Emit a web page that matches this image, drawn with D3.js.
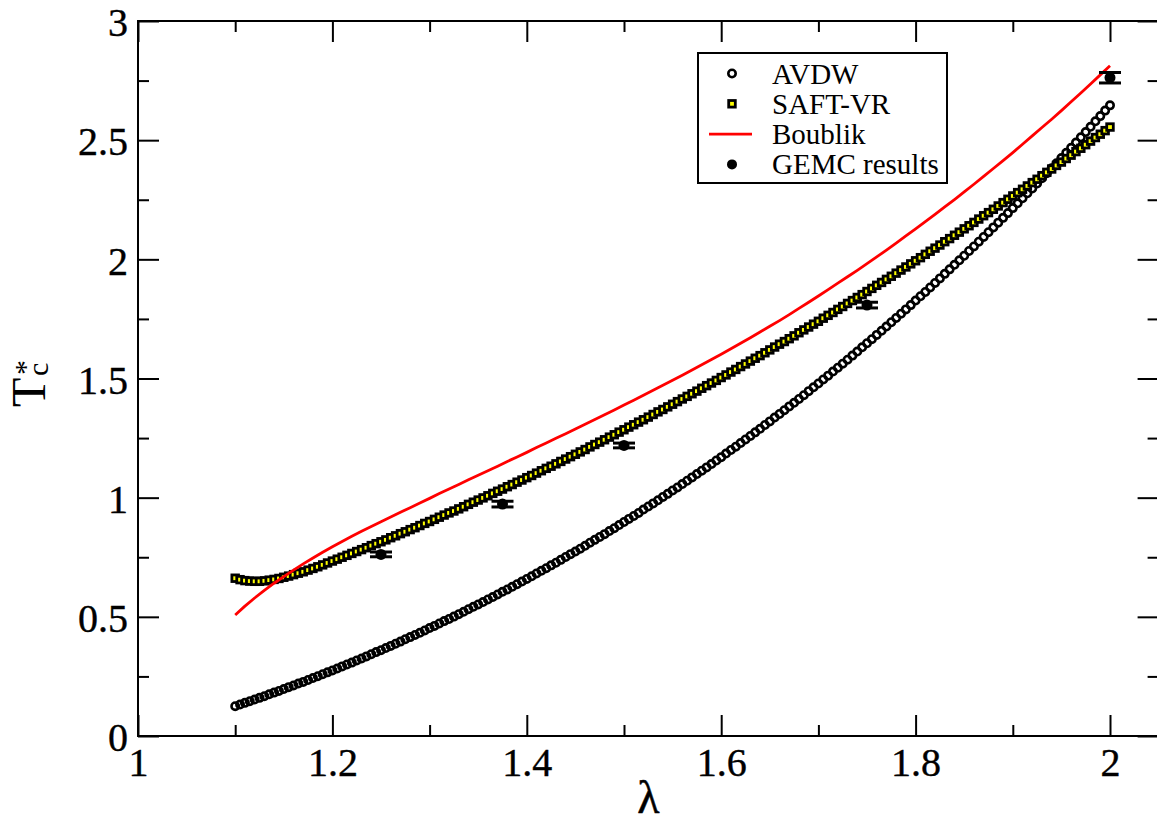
<!DOCTYPE html>
<html>
<head>
<meta charset="utf-8">
<script src="https://cdn.jsdelivr.net/npm/d3@7"></script>
<style>
  html, body { margin: 0; padding: 0; background: #fff; }
  svg { display: block; }
  text { font-family: "Liberation Serif", "DejaVu Serif", "Times New Roman", serif; fill: #000; }
</style>
</head>
<body>
<svg id="chart" width="1157" height="829"></svg>
<script>
// Well width lambda at which the theoretical critical temperatures are tabulated
const lambdaGrid = [
  1.1,1.105,1.11,1.115,1.12,1.125,1.13,1.135,1.14,1.145,
  1.15,1.155,1.16,1.165,1.17,1.175,1.18,1.185,1.19,1.195,
  1.2,1.205,1.21,1.215,1.22,1.225,1.23,1.235,1.24,1.245,
  1.25,1.255,1.26,1.265,1.27,1.275,1.28,1.285,1.29,1.295,
  1.3,1.305,1.31,1.315,1.32,1.325,1.33,1.335,1.34,1.345,
  1.35,1.355,1.36,1.365,1.37,1.375,1.38,1.385,1.39,1.395,
  1.4,1.405,1.41,1.415,1.42,1.425,1.43,1.435,1.44,1.445,
  1.45,1.455,1.46,1.465,1.47,1.475,1.48,1.485,1.49,1.495,
  1.5,1.505,1.51,1.515,1.52,1.525,1.53,1.535,1.54,1.545,
  1.55,1.555,1.56,1.565,1.57,1.575,1.58,1.585,1.59,1.595,
  1.6,1.605,1.61,1.615,1.62,1.625,1.63,1.635,1.64,1.645,
  1.65,1.655,1.66,1.665,1.67,1.675,1.68,1.685,1.69,1.695,
  1.7,1.705,1.71,1.715,1.72,1.725,1.73,1.735,1.74,1.745,
  1.75,1.755,1.76,1.765,1.77,1.775,1.78,1.785,1.79,1.795,
  1.8,1.805,1.81,1.815,1.82,1.825,1.83,1.835,1.84,1.845,
  1.85,1.855,1.86,1.865,1.87,1.875,1.88,1.885,1.89,1.895,
  1.9,1.905,1.91,1.915,1.92,1.925,1.93,1.935,1.94,1.945,
  1.95,1.955,1.96,1.965,1.97,1.975,1.98,1.985,1.99,1.995,
  2.0
];

// AVDW critical temperature
const avdw = [
  0.125,0.132,0.139,0.146,0.153,0.160,0.167,0.175,0.182,0.189,
  0.197,0.205,0.212,0.220,0.227,0.235,0.243,0.251,0.259,0.267,
  0.275,0.283,0.292,0.300,0.308,0.317,0.325,0.334,0.343,0.352,
  0.360,0.369,0.378,0.387,0.396,0.406,0.415,0.424,0.433,0.443,
  0.453,0.462,0.472,0.482,0.491,0.501,0.511,0.521,0.532,0.542,
  0.552,0.562,0.573,0.583,0.594,0.605,0.615,0.626,0.637,0.648,
  0.659,0.670,0.682,0.693,0.704,0.716,0.727,0.739,0.751,0.763,
  0.774,0.786,0.798,0.811,0.823,0.835,0.847,0.860,0.872,0.885,
  0.898,0.911,0.923,0.936,0.950,0.963,0.976,0.989,1.003,1.016,
  1.030,1.043,1.057,1.071,1.085,1.099,1.113,1.127,1.141,1.156,
  1.170,1.185,1.200,1.214,1.229,1.244,1.259,1.274,1.289,1.305,
  1.320,1.336,1.351,1.367,1.383,1.398,1.414,1.430,1.447,1.463,
  1.479,1.496,1.512,1.529,1.545,1.562,1.579,1.596,1.613,1.631,
  1.648,1.665,1.683,1.700,1.718,1.736,1.754,1.772,1.790,1.808,
  1.827,1.845,1.863,1.882,1.901,1.920,1.939,1.958,1.977,1.996,
  2.015,2.035,2.054,2.074,2.094,2.114,2.134,2.154,2.174,2.194,
  2.215,2.235,2.256,2.277,2.297,2.318,2.340,2.361,2.382,2.403,
  2.425,2.447,2.468,2.490,2.512,2.534,2.556,2.579,2.601,2.624,
  2.646
];

// SAFT-VR critical temperature
const saftVR = [
  0.662,0.656,0.652,0.650,0.649,0.649,0.651,0.654,0.657,0.661,
  0.666,0.671,0.677,0.683,0.689,0.696,0.703,0.710,0.718,0.726,
  0.734,0.742,0.750,0.758,0.766,0.774,0.782,0.790,0.799,0.807,
  0.815,0.823,0.832,0.840,0.849,0.857,0.866,0.874,0.883,0.892,
  0.900,0.909,0.918,0.927,0.936,0.944,0.953,0.962,0.972,0.981,
  0.990,0.999,1.008,1.018,1.027,1.036,1.046,1.055,1.065,1.074,
  1.084,1.093,1.103,1.113,1.123,1.132,1.142,1.152,1.162,1.172,
  1.182,1.192,1.202,1.213,1.223,1.233,1.243,1.254,1.264,1.275,
  1.285,1.296,1.306,1.317,1.327,1.338,1.349,1.360,1.370,1.381,
  1.392,1.403,1.414,1.425,1.436,1.447,1.459,1.470,1.481,1.492,
  1.504,1.515,1.527,1.538,1.550,1.561,1.573,1.585,1.596,1.608,
  1.620,1.632,1.644,1.655,1.667,1.679,1.692,1.704,1.716,1.728,
  1.740,1.753,1.765,1.777,1.790,1.802,1.815,1.827,1.840,1.852,
  1.865,1.878,1.891,1.903,1.916,1.929,1.942,1.955,1.968,1.981,
  1.994,2.007,2.021,2.034,2.047,2.060,2.074,2.087,2.101,2.114,
  2.128,2.141,2.155,2.169,2.183,2.196,2.210,2.224,2.238,2.252,
  2.266,2.280,2.294,2.308,2.322,2.336,2.351,2.365,2.379,2.394,
  2.408,2.423,2.437,2.452,2.466,2.481,2.496,2.511,2.525,2.540,
  2.555
];

// Boublik curve
const boublikLambda = [
  1.1,1.11,1.12,1.13,1.14,1.15,1.16,1.17,1.18,1.19,
  1.2,1.21,1.22,1.23,1.24,1.25,1.26,1.27,1.28,1.29,
  1.3,1.31,1.32,1.33,1.34,1.35,1.36,1.37,1.38,1.39,
  1.4,1.41,1.42,1.43,1.44,1.45,1.46,1.47,1.48,1.49,
  1.5,1.51,1.52,1.53,1.54,1.55,1.56,1.57,1.58,1.59,
  1.6,1.61,1.62,1.63,1.64,1.65,1.66,1.67,1.68,1.69,
  1.7,1.71,1.72,1.73,1.74,1.75,1.76,1.77,1.78,1.79,
  1.8,1.81,1.82,1.83,1.84,1.85,1.86,1.87,1.88,1.89,
  1.9,1.91,1.92,1.93,1.94,1.95,1.96,1.97,1.98,1.99,
  2.0
];
const boublik = [
  0.508,0.545,0.579,0.611,0.641,0.669,0.696,0.722,0.747,0.771,
  0.794,0.816,0.838,0.859,0.879,0.899,0.919,0.939,0.958,0.978,
  0.997,1.017,1.036,1.055,1.075,1.094,1.113,1.132,1.152,1.171,
  1.190,1.210,1.229,1.249,1.268,1.288,1.308,1.328,1.348,1.368,
  1.389,1.409,1.430,1.451,1.472,1.493,1.514,1.536,1.558,1.580,
  1.602,1.625,1.648,1.671,1.695,1.719,1.743,1.768,1.794,1.820,
  1.846,1.873,1.900,1.927,1.954,1.982,2.010,2.039,2.068,2.098,
  2.128,2.158,2.189,2.220,2.251,2.283,2.315,2.348,2.381,2.414,
  2.448,2.483,2.518,2.553,2.588,2.624,2.661,2.698,2.736,2.774,
  2.812
];

// Gibbs ensemble Monte Carlo results with their uncertainties
const gemcLambda = [1.25, 1.375, 1.5, 1.75, 2.0];
const gemcTc     = [0.762, 0.973, 1.219, 1.808, 2.762];
const gemcErr    = [0.010, 0.012, 0.010, 0.012, 0.022];

// Axis ticks and labels
const xMajorTicks  = [1, 1.2, 1.4, 1.6, 1.8, 2];
const xMajorLabels = ["1", "1.2", "1.4", "1.6", "1.8", "2"];
const xMinorTicks  = [1.1, 1.3, 1.5, 1.7, 1.9];
const yMajorTicks  = [0, 0.5, 1, 1.5, 2, 2.5, 3];
const yMajorLabels = ["0", "0.5", "1", "1.5", "2", "2.5", "3"];
const yMinorTicks  = [0.25, 0.75, 1.25, 1.75, 2.25, 2.75];
const legendLabels = ["AVDW", "SAFT-VR", "Boublik", "GEMC results"];

// ---- layout ----
const plot = { left: 138, top: 21, right: 1158.6, bottom: 736 };
const svg = d3.select("#chart");
svg.append("rect").attr("width", 1157).attr("height", 829).attr("fill", "#fff");

const x = d3.scaleLinear().domain([1, 2.05]).range([plot.left, plot.right]);
const y = d3.scaleLinear().domain([0, 3]).range([plot.bottom, plot.top]);

const SERIF = '"Liberation Serif", "DejaVu Serif", "Times New Roman", serif';
const MAJOR = 21, MINOR = 11;

function finishAxis(g) {
  g.attr("font-family", SERIF).attr("font-size", 40);
  g.select(".domain").remove();
  g.selectAll(".tick line").attr("stroke", "#000").attr("stroke-width", 2);
  g.selectAll(".tick text").attr("fill", "#000")
    .attr("stroke", "#000").attr("stroke-width", 0.4);
}

// bottom axis with labels
svg.append("g").attr("transform", `translate(0,${plot.bottom})`)
  .call(d3.axisBottom(x).tickValues(xMajorTicks).tickSize(-MAJOR).tickSizeOuter(0)
    .tickPadding(12).tickFormat((d, i) => xMajorLabels[i]))
  .call(finishAxis);
svg.append("g").attr("transform", `translate(0,${plot.bottom})`)
  .call(d3.axisBottom(x).tickValues(xMinorTicks).tickSize(-MINOR).tickSizeOuter(0).tickFormat(""))
  .call(finishAxis);
// top axis (ticks only)
svg.append("g").attr("transform", `translate(0,${plot.top})`)
  .call(d3.axisTop(x).tickValues(xMajorTicks).tickSize(-MAJOR).tickSizeOuter(0).tickFormat(""))
  .call(finishAxis);
svg.append("g").attr("transform", `translate(0,${plot.top})`)
  .call(d3.axisTop(x).tickValues(xMinorTicks).tickSize(-MINOR).tickSizeOuter(0).tickFormat(""))
  .call(finishAxis);
// left axis with labels
const leftAxis = svg.append("g").attr("transform", `translate(${plot.left},0)`)
  .call(d3.axisLeft(y).tickValues(yMajorTicks).tickSize(-MAJOR).tickSizeOuter(0)
    .tickPadding(10).tickFormat((d, i) => yMajorLabels[i]))
  .call(finishAxis);
leftAxis.selectAll(".tick text").attr("dy", "0.37em");
svg.append("g").attr("transform", `translate(${plot.left},0)`)
  .call(d3.axisLeft(y).tickValues(yMinorTicks).tickSize(-MINOR).tickSizeOuter(0).tickFormat(""))
  .call(finishAxis);
// right axis (ticks only)
svg.append("g").attr("transform", `translate(${plot.right},0)`)
  .call(d3.axisRight(y).tickValues(yMajorTicks).tickSize(-MAJOR).tickSizeOuter(0).tickFormat(""))
  .call(finishAxis);
svg.append("g").attr("transform", `translate(${plot.right},0)`)
  .call(d3.axisRight(y).tickValues(yMinorTicks).tickSize(-MINOR).tickSizeOuter(0).tickFormat(""))
  .call(finishAxis);

// frame
svg.append("rect")
  .attr("x", plot.left).attr("y", plot.top)
  .attr("width", plot.right - plot.left).attr("height", plot.bottom - plot.top)
  .attr("fill", "none").attr("stroke", "#000").attr("stroke-width", 2);

// ---- data series ----
const CIRCLE_R = 3.7, SQUARE = 6.6;

// AVDW: open circles
svg.append("g").selectAll("circle")
  .data(lambdaGrid.map((l, i) => [l, avdw[i]]))
  .join("circle")
  .attr("cx", d => x(d[0])).attr("cy", d => y(d[1]))
  .attr("r", CIRCLE_R)
  .attr("fill", "none").attr("stroke", "#000").attr("stroke-width", 2.6);

// SAFT-VR: yellow squares
svg.append("g").selectAll("rect")
  .data(lambdaGrid.map((l, i) => [l, saftVR[i]]))
  .join("rect")
  .attr("x", d => x(d[0]) - SQUARE / 2).attr("y", d => y(d[1]) - SQUARE / 2)
  .attr("width", SQUARE).attr("height", SQUARE)
  .attr("fill", "#ffff00").attr("stroke", "#000").attr("stroke-width", 2.8);

// Boublik: red line
const line = d3.line().x(d => x(d[0])).y(d => y(d[1]));
svg.append("path")
  .datum(boublikLambda.map((l, i) => [l, boublik[i]]))
  .attr("d", line)
  .attr("fill", "none").attr("stroke", "#ff0000").attr("stroke-width", 2.8)
  .attr("stroke-linejoin", "round");

// GEMC: filled circles with error bars
const gemc = gemcLambda.map((l, i) => ({ l, t: gemcTc[i], e: gemcErr[i] }));
const gemcG = svg.append("g").selectAll("g").data(gemc).join("g");
gemcG.append("line")
  .attr("x1", d => x(d.l)).attr("x2", d => x(d.l))
  .attr("y1", d => y(d.t - d.e)).attr("y2", d => y(d.t + d.e))
  .attr("stroke", "#000").attr("stroke-width", 2.5);
[-1, 1].forEach(s => {
  gemcG.append("line")
    .attr("x1", d => x(d.l) - 11).attr("x2", d => x(d.l) + 11)
    .attr("y1", d => y(d.t + s * d.e)).attr("y2", d => y(d.t + s * d.e))
    .attr("stroke", "#000").attr("stroke-width", 3);
});
gemcG.append("circle")
  .attr("cx", d => x(d.l)).attr("cy", d => y(d.t))
  .attr("r", 5.5).attr("fill", "#000");

// ---- axis titles ----
svg.append("text")
  .attr("x", (plot.left + plot.right) / 2).attr("y", 813)
  .attr("text-anchor", "middle").attr("font-size", 46)
  .attr("stroke", "#000").attr("stroke-width", 0.5)
  .text("λ");

const yTitle = svg.append("g").attr("transform", "translate(45,407) rotate(-90)");
yTitle.append("text").attr("x", 0).attr("y", 0).attr("font-size", 48).text("T");
yTitle.append("text").attr("x", 31).attr("y", 3).attr("font-size", 30).text("c");
yTitle.append("text").attr("x", 32).attr("y", -10).attr("font-size", 30).text("*");

// ---- legend ----
const legend = svg.append("g");
legend.append("rect")
  .attr("x", 698).attr("y", 53).attr("width", 249).attr("height", 130)
  .attr("fill", "#fff").attr("stroke", "#000").attr("stroke-width", 2);
const rowY = i => 73.5 + i * 30.3;
const symX = 732;
legend.append("circle").attr("cx", symX).attr("cy", rowY(0)).attr("r", CIRCLE_R)
  .attr("fill", "none").attr("stroke", "#000").attr("stroke-width", 2.6);
legend.append("rect").attr("x", symX - SQUARE / 2).attr("y", rowY(1) - SQUARE / 2)
  .attr("width", SQUARE).attr("height", SQUARE)
  .attr("fill", "#ffff00").attr("stroke", "#000").attr("stroke-width", 2.8);
legend.append("line").attr("x1", 709).attr("x2", 752).attr("y1", rowY(2)).attr("y2", rowY(2))
  .attr("stroke", "#ff0000").attr("stroke-width", 2.8);
legend.append("circle").attr("cx", symX).attr("cy", rowY(3)).attr("r", 5).attr("fill", "#000");
legend.selectAll("text.lbl").data(legendLabels).join("text")
  .attr("class", "lbl")
  .attr("x", 772).attr("y", (d, i) => rowY(i) + 10)
  .attr("font-size", 29)
  .text(d => d);
</script>
</body>
</html>
